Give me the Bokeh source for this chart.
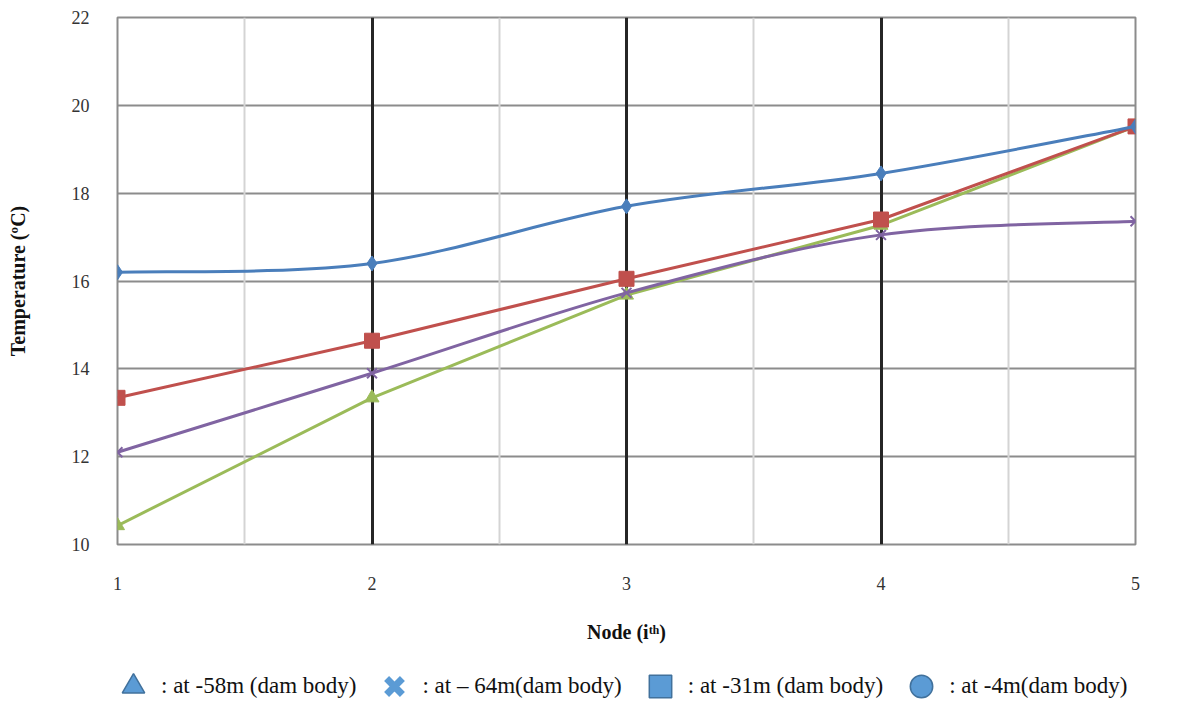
from bokeh.plotting import figure
from bokeh.layouts import column
from bokeh.models import (Grid, FixedTicker, Legend, LegendItem, ColumnDataSource)
from bokeh.embed import file_html
from bokeh.resources import INLINE

nodes = [1, 2, 3, 4, 5]
t_4m = [16.2, 16.4, 17.7, 18.45, 19.52]     # blue, circle
t_31m = [13.34, 14.64, 16.05, 17.4, 19.52]  # red, square
t_64m = [12.1, 13.9, 15.73, 17.05, 17.36]   # purple, x
t_58m = [10.43, 13.34, 15.68, 17.27, 19.52] # green, triangle

legend_labels = [": at -58m (dam body)", ": at \u2013 64m(dam body)",
                 ": at -31m (dam body)", ": at -4m(dam body)"]
y_ticks = [10, 12, 14, 16, 18, 20, 22]
x_ticks = [1, 2, 3, 4, 5]

SERIF = "Liberation Serif"

p = figure(width=1162, height=671, x_range=(1, 5), y_range=(10, 22),
           output_backend="svg", toolbar_location=None,
           min_border_left=117, min_border_right=27, min_border_top=17,
           min_border_bottom=127)

p.outline_line_color = "#8c8c8c"
p.outline_line_width = 2

# grids
p.xgrid.visible = False
p.ygrid.grid_line_color = "#8c8c8c"
p.ygrid.grid_line_width = 2
p.ygrid.ticker = FixedTicker(ticks=y_ticks)
p.add_layout(Grid(dimension=0, ticker=FixedTicker(ticks=[1.5, 2.5, 3.5, 4.5]),
                  grid_line_color="#d4d4d4", grid_line_width=2))
p.add_layout(Grid(dimension=0, ticker=FixedTicker(ticks=[1, 5]),
                  grid_line_color="#8c8c8c", grid_line_width=2))
p.add_layout(Grid(dimension=0, ticker=FixedTicker(ticks=[2, 3, 4]),
                  grid_line_color="#262626", grid_line_width=3))

# axes
p.xaxis.ticker = FixedTicker(ticks=x_ticks)
p.yaxis.ticker = FixedTicker(ticks=y_ticks)
for ax in (p.xaxis[0], p.yaxis[0]):
    ax.axis_line_color = None
    ax.major_tick_line_color = None
    ax.minor_tick_line_color = None
    ax.major_label_text_font = SERIF
    ax.major_label_text_font_size = "18px"
    ax.major_label_text_color = "#333333"
    ax.axis_label_text_font = SERIF
    ax.axis_label_text_font_style = "bold"
    ax.axis_label_text_font_size = "20px"
    ax.axis_label_text_color = "#111111"
p.xaxis.major_label_standoff = 26
p.xaxis.axis_label = "Node (i\u1d57\u02b0)"
p.xaxis.axis_label_standoff = 28
p.yaxis.major_label_standoff = 22
p.yaxis.axis_label = "Temperature (\u00baC)"
p.yaxis.axis_label_standoff = 40


def smooth(xs, ys):
    n = len(xs)
    x0, y0, x1, y1, cx0, cy0, cx1, cy1 = [], [], [], [], [], [], [], []
    for i in range(n - 1):
        pm = max(i - 1, 0)
        pn = min(i + 2, n - 1)
        x0.append(xs[i]); y0.append(ys[i])
        x1.append(xs[i + 1]); y1.append(ys[i + 1])
        cx0.append(xs[i] + (xs[i + 1] - xs[pm]) / 6)
        cy0.append(ys[i] + (ys[i + 1] - ys[pm]) / 6)
        cx1.append(xs[i + 1] - (xs[pn] - xs[i]) / 6)
        cy1.append(ys[i + 1] - (ys[pn] - ys[i]) / 6)
    return dict(x0=x0, y0=y0, x1=x1, y1=y1, cx0=cx0, cy0=cy0, cx1=cx1, cy1=cy1)


BLUE = "#4a7ebb"
RED = "#c0504d"
GREEN = "#9bbb59"
PURPLE = "#8064a2"

# green (triangle)
p.line(nodes, t_58m, line_color=GREEN, line_width=3)
p.scatter(nodes, t_58m, marker="triangle", size=14, fill_color=GREEN, line_color=GREEN)
# purple (x), slightly smoothed
p.bezier(source=ColumnDataSource(smooth(nodes, t_64m)), x0="x0", y0="y0", x1="x1", y1="y1",
         cx0="cx0", cy0="cy0", cx1="cx1", cy1="cy1", line_color=PURPLE, line_width=3)
p.scatter(nodes, t_64m, marker="x", size=14, line_color=PURPLE, line_width=2)
# red (square)
p.line(nodes, t_31m, line_color=RED, line_width=3)
p.scatter(nodes, t_31m, marker="square", size=15, fill_color=RED, line_color=RED)
# blue (circle), smoothed
p.bezier(source=ColumnDataSource(smooth(nodes, t_4m)), x0="x0", y0="y0", x1="x1", y1="y1",
         cx0="cx0", cy0="cy0", cx1="cx1", cy1="cy1", line_color=BLUE, line_width=3)
p.scatter(nodes, t_4m, marker="diamond", size=15, fill_color=BLUE, line_color=BLUE)

# separate legend strip with uniform steel-blue symbols
LF = "#5b9bd5"
LL = "#41719c"
lg = figure(width=1162, height=29, x_range=(0, 1), y_range=(0, 1),
            x_axis_type=None, y_axis_type=None,
            output_backend="svg", toolbar_location=None,
            min_border_left=117, min_border_right=27, min_border_top=0,
            min_border_bottom=0)
lg.grid.visible = False
lg.outline_line_color = None
lg.background_fill_alpha = 0
lg.border_fill_alpha = 0
proxy = ColumnDataSource(dict(x=[-100], y=[-100]))
r_tri = lg.scatter("x", "y", source=proxy, marker="triangle", size=24,
                   fill_color=LF, line_color=LL, line_width=1.5)
r_x = lg.scatter("x", "y", source=proxy, marker="x", size=20,
                 line_color=LF, line_width=7)
r_sq = lg.scatter("x", "y", source=proxy, marker="square", size=20,
                  fill_color=LF, line_color=LL, line_width=1.5)
r_ci = lg.scatter("x", "y", source=proxy, marker="circle", size=24,
                  fill_color=LF, line_color=LL, line_width=1.5)

legend = Legend(items=[LegendItem(label=legend_labels[0], renderers=[r_tri]),
                       LegendItem(label=legend_labels[1], renderers=[r_x]),
                       LegendItem(label=legend_labels[2], renderers=[r_sq]),
                       LegendItem(label=legend_labels[3], renderers=[r_ci])],
                orientation="horizontal", location=(-12, -14),
                label_text_font=SERIF, label_text_font_size="23px",
                label_text_color="#111111", border_line_color=None,
                background_fill_alpha=0, glyph_width=56, glyph_height=56,
                label_standoff=-14, spacing=10, padding=0, margin=0)
lg.add_layout(legend)

layout = column(p, lg, spacing=0)
open("out.html", "w").write(file_html(layout, INLINE))
